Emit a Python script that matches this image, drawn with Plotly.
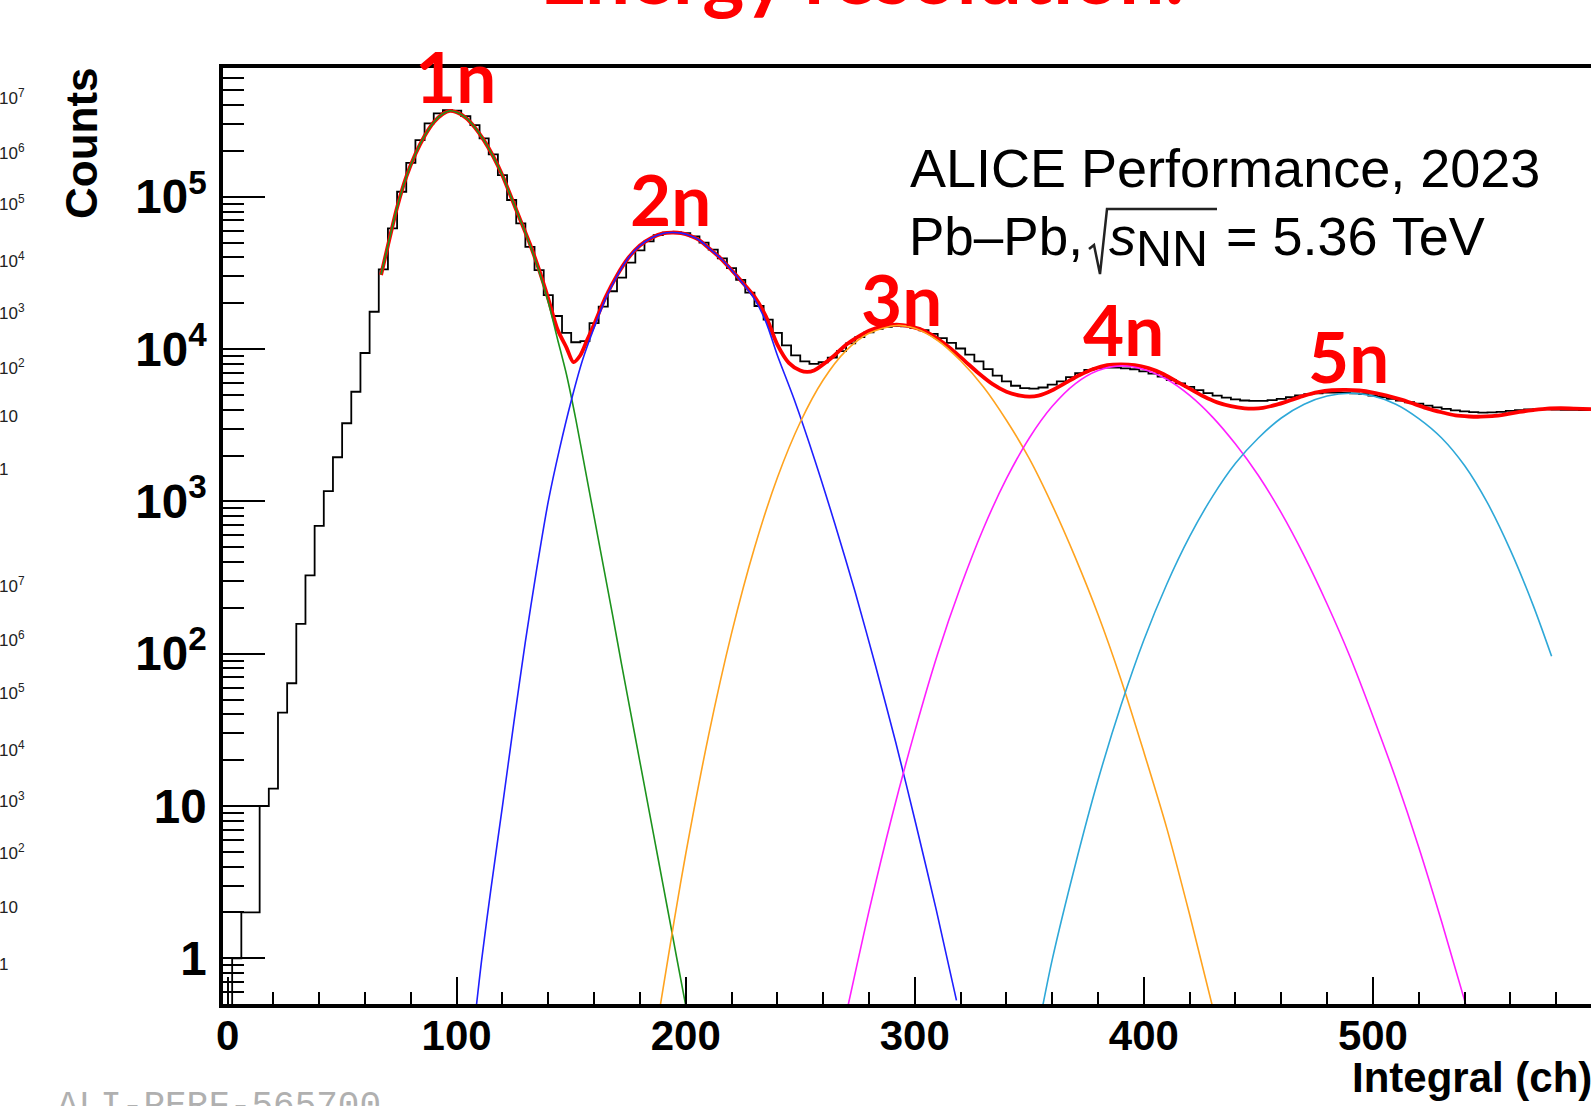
import plotly.graph_objects as go

# ---------------- data ----------------
BIN_WIDTH = 4
bin_centers = list(range(0, 600, 4))          # 150 bins, range [-2, 598]
counts = [
    0, 1, 2, 2, 10, 13, 41, 64, 157, 327,
    691, 1170, 1950, 3260, 5250, 9430, 17600, 33400, 62100, 108000,
    167000, 236000, 304000, 353000, 371000, 368000, 339000, 296000, 242000, 190000,
    139000, 95300, 67000, 47000, 33000, 22600, 16500, 12800, 11100, 11300,
    14800, 19000, 24000, 29500, 37000, 44500, 51000, 56000, 58300, 58500,
    57800, 55000, 50000, 45000, 39500, 34000, 28500, 23500, 19200, 15600,
    12800, 10600, 9100, 8300, 8000, 8200, 8800, 9700, 10900, 12000,
    12900, 13600, 14000, 14200, 14100, 13800, 13300, 12600, 11800, 11000,
    10100, 9200, 8300, 7400, 6700, 6150, 5750, 5550, 5500, 5600,
    5850, 6150, 6550, 6950, 7300, 7500, 7550, 7550, 7480, 7380,
    7150, 6900, 6600, 6250, 5950, 5650, 5380, 5150, 4950, 4800,
    4680, 4600, 4570, 4580, 4620, 4720, 4830, 4960, 5060, 5130,
    5180, 5190, 5170, 5120, 5060, 4960, 4850, 4720, 4600, 4480,
    4390, 4260, 4150, 4050, 3960, 3900, 3860, 3830, 3840, 3870,
    3930, 3980, 4020, 4040, 4030, 4010, 3990, 3990, 3980, 3990,
]

total_x = [67, 70, 74, 78, 82, 86, 90, 94, 97, 100, 104, 108, 112, 116, 120, 124, 128, 132, 136, 140,
           144, 148, 151, 154, 157, 160, 165, 170, 175, 180, 185, 190, 194, 198, 202, 206, 210, 215, 220, 225,
           230, 235, 240, 245, 250, 253, 256, 260, 265, 270, 275, 280, 286, 292, 298, 304, 310, 316, 322, 328,
           334, 340, 346, 350, 354, 360, 366, 372, 378, 384, 390, 396, 402, 408, 414, 420, 426, 432, 438, 444,
           448, 452, 458, 464, 470, 476, 482, 488, 494, 500, 506, 512, 518, 524, 530, 536, 542, 547, 552, 558,
           564, 570, 576, 582, 588, 595.4]
total_y = [30700, 47900, 85100, 135000, 191000, 251000, 309000, 351000, 367000, 359000, 331000, 285000, 234000,
           184000, 138000, 97800, 69300, 49000, 33100, 21400,
           13500, 10200, 8220, 9120, 11500, 14500, 21900, 30500, 39800, 47900, 53700, 57500, 58300, 57800, 55600,
           51900, 46200, 39800, 33100, 27200,
           22100, 16400, 10700, 8130, 7240, 7080, 7240, 7940, 9120, 10700, 12000, 13200, 14100, 14500, 14100,
           13200, 11700, 10000, 8320, 6920,
           5890, 5250, 4950, 4880, 4950, 5370, 6030, 6760, 7410, 7850, 7940, 7850, 7500, 6920, 6170, 5500, 4900,
           4470, 4220, 4090,
           4070, 4120, 4320, 4620, 4950, 5220, 5370, 5400, 5350, 5190, 4950, 4680, 4370, 4070, 3850, 3670, 3610,
           3600, 3630, 3730,
           3870, 3980, 4070, 4090, 4070, 4030]

n1_x = [67, 70, 74, 78, 82, 86, 90, 94, 97, 100, 104, 108, 112, 116, 120, 124, 128, 132, 136, 140,
        144, 148, 152, 156, 160, 164, 168, 172, 176, 180, 184, 188, 192, 196, 200]
n1_y = [30900, 47900, 85100, 135000, 191000, 251000, 309000, 351000, 367000, 359000, 331000, 285000, 234000,
        184000, 138000, 97700, 69200, 48400, 32400, 20400,
        11700, 6760, 3470, 1660, 794, 380, 182, 85.1, 40.7, 19.5, 9.33, 4.47, 2.14, 1.02, 0.49]

n2_x = [108.7, 111, 115, 120, 125, 130, 135, 140, 145, 150, 155, 160, 165, 170, 175, 180, 185, 190, 194, 198,
        202, 206, 210, 215, 220, 225, 230, 235, 240, 247.4, 256.3, 265.1, 274, 282.8, 291.7, 300.5, 309.4, 318.2]
n2_y = [0.50, 1.0, 2.88, 10, 35.5, 120, 363, 1000, 2240, 4570, 8510, 13800, 21400, 30200, 39800, 47900, 53700,
        57500, 58300, 57800,
        55600, 51900, 46200, 39800, 33100, 26900, 21400, 15100, 9120, 4650, 1880, 713, 253, 83.9, 26.1, 7.59,
        2.07, 0.53]

n3_x = [189, 195, 200, 210, 220, 230, 240, 250, 260, 270, 280, 292, 300, 310, 320, 330, 340, 350, 360, 370,
        380, 390, 400, 410, 420, 430]
n3_y = [0.50, 1.78, 4.84, 29.2, 136, 495, 1430, 3310, 6270, 9770, 12700, 14300, 13700, 11400, 8390, 5640, 3410,
        1910, 946, 431, 181, 67.8, 22.6, 7.16, 1.93, 0.48]

n4_x = [271, 275, 280, 290, 300, 310, 320, 330, 340, 350, 360, 370, 380, 390, 400, 410, 420, 430, 440, 450,
        460, 470, 480, 490, 500, 510, 520, 530, 540.5]
n4_y = [0.50, 0.94, 2.04, 8.51, 30.9, 100, 275, 667, 1410, 2610, 4210, 5920, 7240, 7760, 7360, 6340, 4970, 3580,
        2380, 1480, 841, 439, 212, 95.5, 38.9, 15.1, 5.37, 1.74, 0.50]

n5_x = [356, 360, 370, 380, 390, 400, 410, 420, 430, 440, 450, 460, 470, 480, 490, 500, 510, 520, 530, 540,
        550, 560, 570, 578]
n5_y = [0.50, 0.98, 4.07, 14.8, 45.7, 123, 286, 589, 1080, 1780, 2610, 3530, 4350, 4920, 5130, 4920, 4350, 3500,
        2610, 1720, 977, 479, 207, 96.2]

peak_labels = ["1n", "2n", "3n", "4n", "5n"]
peak_label_x = [99.4, 193.5, 294.3, 391.2, 489.3]
peak_label_logy = [5.80, 4.99, 4.33, 4.135, 3.955]

side_labels = ["10<sup>7</sup>", "10<sup>6</sup>", "10<sup>5</sup>", "10<sup>4</sup>",
               "10<sup>3</sup>", "10<sup>2</sup>", "10", "1"]
side_label_y1 = [97, 152, 203, 260, 312, 367, 416, 469]
side_label_y2 = [585, 639, 692, 749, 800, 852, 907, 964]

# ---------------- figure ----------------
W, H = 1591, 1106
L, R, T, B = 223, 0, 68, 102
PW, PH = W - L - R, H - T - B


def px_x(p):
    return (p - L) / PW


def px_y(p):
    return (H - B - p) / PH


fig = go.Figure()

# histogram as steps over bin edges
edges = [c - BIN_WIDTH / 2 for c in bin_centers] + [bin_centers[-1] + BIN_WIDTH / 2]
hvals = [v if v > 0 else 1e-3 for v in counts] + [counts[-1]]
fig.add_trace(go.Scatter(x=edges, y=hvals, mode="lines", line=dict(color="black", width=1.8, shape="hv"),
                         hoverinfo="skip"))

fig.add_trace(go.Scatter(x=total_x, y=total_y, mode="lines",
                         line=dict(color="#ff0000", width=3.8, shape="spline", smoothing=0.8)))
comp = [(n1_x, n1_y, "#1d931d"), (n2_x, n2_y, "#1f1fff"), (n3_x, n3_y, "#ffa31f"),
        (n4_x, n4_y, "#ff1fff"), (n5_x, n5_y, "#2ea8d8")]
for xs, ys, col in comp:
    fig.add_trace(go.Scatter(x=xs, y=ys, mode="lines",
                             line=dict(color=col, width=1.6, shape="spline", smoothing=0.8)))

AX_FONT = "Liberation Sans, Arial, Helvetica, sans-serif"

fig.update_xaxes(range=[-2, 595.2], showgrid=False, zeroline=False,
                 showline=True, linecolor="black", linewidth=3.5, mirror=True,
                 ticks="inside", ticklen=27, tickwidth=2, tickcolor="black",
                 tick0=0, dtick=100,
                 minor=dict(ticks="inside", ticklen=12, tickwidth=2, tickcolor="black", dtick=20, showgrid=False),
                 tickfont=dict(family=AX_FONT, size=42, color="black", weight="bold"),
                 ticklabelstandoff=-8)
fig.update_yaxes(type="log", range=[-0.300, 5.846], showgrid=False, zeroline=False,
                 showline=True, linecolor="black", linewidth=3.5, mirror=False,
                 ticks="inside", ticklen=42, tickwidth=2, tickcolor="black",
                 dtick=1, exponentformat="power",
                 minor=dict(ticks="inside", ticklen=21, tickwidth=2, tickcolor="black", dtick="D1", showgrid=False),
                 tickfont=dict(family=AX_FONT, size=38, color="black", weight="bold"),
                 ticklabelstandoff=5)

ann = []
# slide title (cut off at the top)
ann.append(dict(text="Energy resolution:", xref="paper", yref="paper", x=px_x(862), y=px_y(22),
                xanchor="center", yanchor="bottom", showarrow=False, borderpad=0,
                font=dict(family="Lato, Open Sans, sans-serif", size=80, color="#ff0000", weight="bold")))
for t, x, y in zip(peak_labels, peak_label_x, peak_label_logy):
    ann.append(dict(text=t, xref="x", yref="y", x=x, y=y, xanchor="center", yanchor="middle",
                    showarrow=False, borderpad=0,
                    font=dict(family="Lato, Open Sans, sans-serif", size=71, color="#ff0000", weight="bold")))
ann.append(dict(text="ALICE Performance, 2023", xref="paper", yref="paper", x=px_x(909), y=px_y(168),
                xanchor="left", yanchor="middle", showarrow=False, borderpad=0,
                font=dict(family=AX_FONT, size=54, color="black")))
# second line: Pb–Pb, sqrt(s_NN) = 5.36 TeV (radical drawn as a path)
LINE2_TOP = 205
ann.append(dict(text="Pb\u2013Pb,", xref="paper", yref="paper", x=px_x(908), y=px_y(LINE2_TOP + 1),
                xanchor="left", yanchor="top", showarrow=False, borderpad=0,
                font=dict(family=AX_FONT, size=53, color="black")))
ann.append(dict(text="<i>s</i><sub><span style='font-size:50px'>NN</span></sub>", xref="paper", yref="paper",
                x=px_x(1108), y=px_y(LINE2_TOP),
                xanchor="left", yanchor="top", showarrow=False, borderpad=0,
                font=dict(family=AX_FONT, size=54, color="black")))
ann.append(dict(text="= 5.36 TeV", xref="paper", yref="paper", x=px_x(1225), y=px_y(LINE2_TOP),
                xanchor="left", yanchor="top", showarrow=False, borderpad=0,
                font=dict(family=AX_FONT, size=54, color="black")))
radical = [(1089, 249), (1094, 245), (1100, 274), (1107, 209), (1217, 209)]
path = "M " + " L ".join(f"{px_x(a):.5f},{px_y(b):.5f}" for a, b in radical)
shapes = [dict(type="path", xref="paper", yref="paper", path=path,
               line=dict(color="#222222", width=2.5))]

ann.append(dict(text="Counts", xref="paper", yref="paper", x=px_x(81), y=px_y(143), textangle=-90,
                xanchor="center", yanchor="middle", showarrow=False, borderpad=0,
                font=dict(family=AX_FONT, size=44, color="black", weight="bold")))
ann.append(dict(text="Integral (ch)", xref="paper", yref="paper", x=px_x(1593), y=px_y(1077),
                xanchor="right", yanchor="middle", showarrow=False, borderpad=0,
                font=dict(family=AX_FONT, size=42, color="black", weight="bold")))
ann.append(dict(text="ALI-PERF-565700", xref="paper", yref="paper", x=px_x(56), y=px_y(1085),
                xanchor="left", yanchor="top", showarrow=False, borderpad=0,
                font=dict(family="Liberation Mono, Courier New, monospace", size=36, color="#b0b0b0")))
for ys in (side_label_y1, side_label_y2):
    for t, yy in zip(side_labels, ys):
        ann.append(dict(text=t, xref="paper", yref="paper", x=px_x(-2), y=px_y(yy),
                        xanchor="left", yanchor="middle", showarrow=False, borderpad=0,
                        font=dict(family=AX_FONT, size=17, color="#222222")))

fig.update_layout(width=W, height=H, margin=dict(l=L, r=R, t=T, b=B, pad=0),
                  paper_bgcolor="white", plot_bgcolor="white", showlegend=False,
                  annotations=ann, shapes=shapes)

fig.write_html("out.html")
